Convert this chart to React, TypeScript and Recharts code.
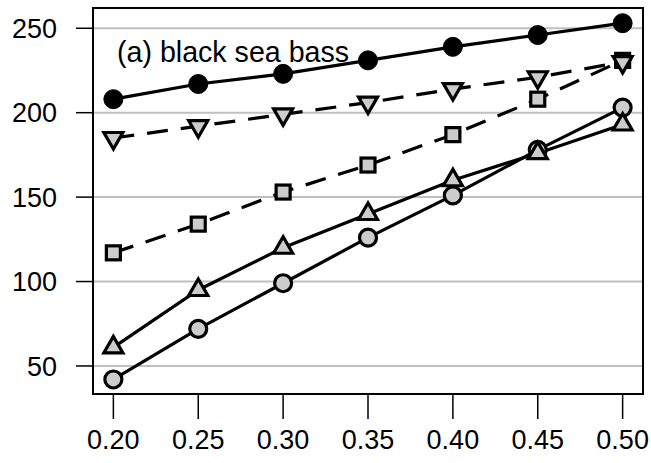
import { LineChart, Line, XAxis, YAxis, CartesianGrid, ReferenceArea } from "recharts";

const xValues = [0.2, 0.25, 0.3, 0.35, 0.4, 0.45, 0.5];
const blackCircles = [208, 217, 223, 231, 239, 246, 253];
const downTriangles = [185, 192, 199, 206, 214, 221, 230];
const squares = [117, 134, 153, 169, 187, 208, 231];
const grayCircles = [42, 72, 99, 126, 151, 178, 203];
const upTriangles = [61, 95, 120, 140, 160, 176, 193];
const yTicks = [50, 100, 150, 200, 250];
const title = "(a) black sea bass";

const data = xValues.map((x, i) => ({
  x,
  black: blackCircles[i],
  down: downTriangles[i],
  square: squares[i],
  gray: grayCircles[i],
  up: upTriangles[i],
}));

const FONT = "'Liberation Sans', Arial, Helvetica, sans-serif";
const FILL = "#cccccc";
const SW = 3.2;

const BlackDot = (p: any) => (
  <circle key={p.key} cx={p.cx} cy={p.cy} r={9.5} fill="#000" stroke="#000" strokeWidth={1} />
);
const GrayDot = (p: any) => (
  <circle key={p.key} cx={p.cx} cy={p.cy} r={8.5} fill={FILL} stroke="#000" strokeWidth={SW} />
);
const SquareDot = (p: any) => (
  <rect key={p.key} x={p.cx - 7} y={p.cy - 7} width={14} height={14} fill={FILL} stroke="#000" strokeWidth={SW} />
);
const triPoints = (cx: number, cy: number, r: number, dir: number) =>
  `${cx},${cy - dir * r} ${cx - r * 0.866},${cy + dir * r * 0.5} ${cx + r * 0.866},${cy + dir * r * 0.5}`;
const UpDot = (p: any) => (
  <polygon key={p.key} points={triPoints(p.cx, p.cy, 11, 1)} fill={FILL} stroke="#000" strokeWidth={SW} />
);
const DownDot = (p: any) => (
  <polygon key={p.key} points={triPoints(p.cx, p.cy, 11, -1)} fill={FILL} stroke="#000" strokeWidth={SW} />
);

export default function App() {
  return (
    <div style={{ position: "absolute", left: 0, top: 0, width: 651, height: 463, background: "#fff" }}>
      <LineChart width={651} height={463} data={data} margin={{ top: 8, right: 8, left: 0, bottom: 0 }}>
        <CartesianGrid vertical={false} stroke="#c0c0c0" strokeWidth={2} />
        <XAxis
          dataKey="x"
          type="number"
          domain={[0.188, 0.512]}
          ticks={xValues}
          tickFormatter={(v: number) => v.toFixed(2)}
          height={69}
          axisLine={false}
          tickSize={25}
          tickMargin={11}
          tickLine={{ stroke: "#000", strokeWidth: 1.5 }}
          tick={{ fill: "#000", fontSize: 27, fontFamily: FONT }}
        />
        <YAxis
          type="number"
          domain={[33.4, 262]}
          ticks={yTicks}
          width={93}
          axisLine={false}
          tickSize={17}
          tickMargin={19}
          tickLine={{ stroke: "#000", strokeWidth: 1.5 }}
          tick={{ fill: "#000", fontSize: 27, fontFamily: FONT }}
        />
        <ReferenceArea x1={0.188} x2={0.512} y1={33.4} y2={262} fill="none" stroke="#000" strokeWidth={2} fillOpacity={0} />
        <Line dataKey="black" stroke="#000" strokeWidth={SW} dot={BlackDot} isAnimationActive={false} />
        <Line dataKey="square" stroke="#000" strokeWidth={SW} strokeDasharray="21 13" dot={SquareDot} isAnimationActive={false} />
        <Line dataKey="down" stroke="#000" strokeWidth={SW} strokeDasharray="21 13" dot={DownDot} isAnimationActive={false} />
        <Line dataKey="gray" stroke="#000" strokeWidth={SW} dot={GrayDot} isAnimationActive={false} />
        <Line dataKey="up" stroke="#000" strokeWidth={SW} dot={UpDot} isAnimationActive={false} />
      </LineChart>
      <div
        style={{
          position: "absolute",
          left: 117,
          top: 38,
          fontFamily: FONT,
          fontSize: 28.6,
          lineHeight: 1,
          color: "#000",
          whiteSpace: "nowrap",
          pointerEvents: "none",
        }}
      >
        {title}
      </div>
    </div>
  );
}
